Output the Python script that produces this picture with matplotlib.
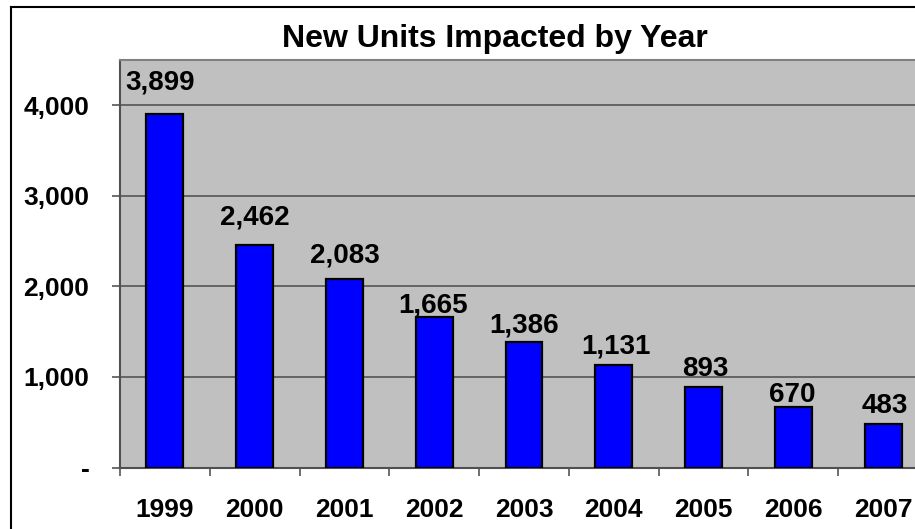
import numpy as np
import matplotlib.pyplot as plt
from matplotlib.lines import Line2D
from matplotlib.ticker import FixedLocator, NullFormatter

plt.rcParams['font.family'] = ['Liberation Sans', 'DejaVu Sans']
plt.rcParams['font.weight'] = 'bold'

# --- Data ---
years = ['1999', '2000', '2001', '2002', '2003', '2004', '2005', '2006', '2007']
units = [3899, 2462, 2083, 1665, 1386, 1131, 893, 670, 483]
ytick_vals = [0, 1000, 2000, 3000, 4000]
ytick_text = ['-', '1,000', '2,000', '3,000', '4,000']

# label nudges (points) for the value labels: (dx, dy above bar top)
label_dx = [-3.5, 0, 0, -1, 0, 1.5, 1.5, -0.5, 1.5]
label_dy = [18, 14.5, 12, 3, 7, 8, 8, 3.5, 8]

W, H = 915, 529
fig = plt.figure(figsize=(W / 100, H / 100), dpi=100)
ax = fig.add_axes([120 / W, 61.5 / H, 808 / W, 407.5 / H])

x = np.arange(len(years)) + 0.5
bars = ax.bar(x, units, width=0.41, color='#0000FF', edgecolor='black',
              linewidth=1.6, zorder=3)

ax.set_facecolor('#C0C0C0')
ax.set_xlim(0, len(years))
ax.set_ylim(0, 4500)

ax.set_yticks(ytick_vals)
ax.set_yticklabels(ytick_text, fontsize=19, fontweight='bold')
ax.yaxis.grid(True, color='#555555', linewidth=1.2, zorder=0)
ax.tick_params(axis='y', length=6, width=1.2, color='#555555', pad=16)

# category boundaries get tick marks, labels sit under the bar centres
ax.xaxis.set_major_locator(FixedLocator(np.arange(len(years) + 1)))
ax.xaxis.set_major_formatter(NullFormatter())
ax.xaxis.set_minor_locator(FixedLocator(x))
ax.set_xticklabels(years, minor=True, fontsize=19, fontweight='bold')
ax.tick_params(axis='x', which='major', length=6, width=1.2, color='#555555')
ax.tick_params(axis='x', which='minor', length=0, pad=22)

for side in ['top', 'right']:
    ax.spines[side].set_color('#808080')
    ax.spines[side].set_linewidth(1.5)
for side in ['left', 'bottom']:
    ax.spines[side].set_color('#505050')
    ax.spines[side].set_linewidth(1.5)

for xi, v, dx, dy in zip(x, units, label_dx, label_dy):
    ax.annotate(f'{v:,}', (xi, v), xytext=(dx, dy), textcoords='offset points',
                ha='center', va='baseline', fontsize=20, fontweight='bold',
                zorder=5)

fig.text(495 / W, 1 - 46.7 / H, 'New Units Impacted by Year', ha='center',
         va='baseline', fontsize=23, fontweight='bold')

# outer chart frame (left and top edges)
fig.add_artist(Line2D([11 / W, 11 / W], [0, 1 - 7 / H], transform=fig.transFigure,
                      color='black', linewidth=1.5))
fig.add_artist(Line2D([11 / W, 1], [1 - 7 / H, 1 - 7 / H], transform=fig.transFigure,
                      color='black', linewidth=1.5))

fig.savefig('out.png', dpi=100)
